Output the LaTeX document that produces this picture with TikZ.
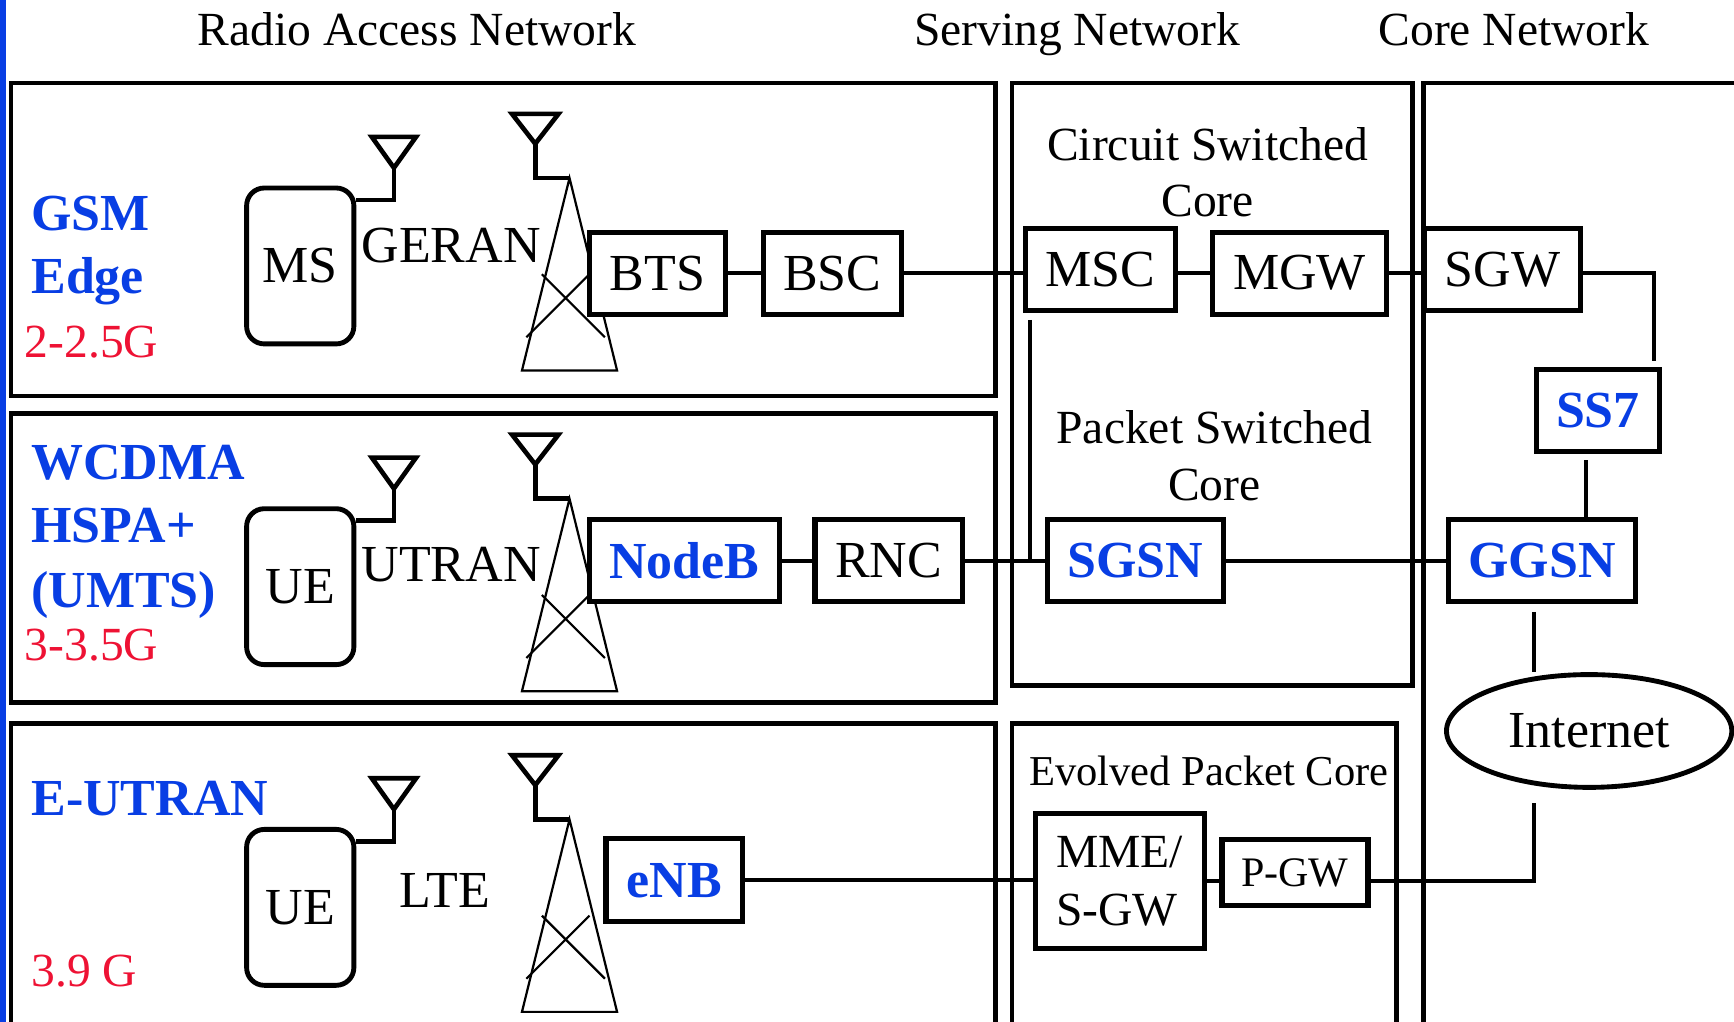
\documentclass[tikz,border=0pt]{standalone}
\usepackage{fontspec}
\setmainfont{Liberation Serif}
\usetikzlibrary{shapes.geometric}
\definecolor{techblue}{RGB}{8,62,228}
\definecolor{genred}{RGB}{238,18,52}

\begin{document}
\begin{tikzpicture}[x=0.5pt, y=-0.5pt]
      \tikzset{
  netbox/.style={
    rectangle,
    draw,
    fill=white,
    line width=2.3pt,
    inner sep=0pt,
    minimum height=37pt,
    font=\fontsize{23.5}{28}\selectfont
  },
  techbox/.style={
    netbox,
    text=techblue,
    font=\fontsize{23.5}{28}\selectfont\bfseries
  },
  mobile/.style={
    rectangle,
    draw,
    rounded corners=8pt,
    line width=2.2pt,
    minimum width=48.5pt,
    minimum height=70.5pt,
    font=\fontsize{23.5}{28}\selectfont
  },
  area/.style={line width=2.1pt},
  link/.style={line width=1.9pt},
  mast/.style={line width=1pt},
  tech/.style={
    anchor=base west,
    inner sep=0pt,
    text=techblue,
    font=\fontsize{23.5}{28}\selectfont\bfseries
  },
  gen/.style={
    anchor=base west,
    inner sep=0pt,
    text=genred,
    font=\fontsize{21.5}{26}\selectfont
  },
  heading/.style={
    anchor=base,
    inner sep=0pt,
    font=\fontsize{21.5}{26}\selectfont
  }
}

\useasboundingbox (0,0) rectangle (1568,924);

\node [heading] (ran-head) at (377,41) {Radio Access Network};
\node [heading] (sn-head) at (974,41) {Serving Network};
\node [heading] (cn-head) at (1369,41) {Core Network};

% network areas
\draw [techblue, line width=2.5pt] (2.5,0) -- (2.5,924);
\draw [area] (10,75) rectangle (900,358);
\draw [area] (10,374) rectangle (900,635);
\draw [area] (10,924) -- (10,654) -- (900,654) -- (900,924);
\draw [area] (915,75) rectangle (1277,620);
\draw [area] (915,924) -- (915,654) -- (1263,654) -- (1263,924);
\draw [area] (1287,924) -- (1287,75) -- (1568,75);

\foreach \t/\y [count=\i] in {GSM/208, Edge/265, WCDMA/434, HSPA+/491, {(UMTS)}/549, E-UTRAN/737}
  \node [tech] (tech-\i) at (28,\y) {\t};

\foreach \g/\x/\y [count=\i] in {2-2.5G/22/323, 3-3.5G/22/597, 3.9 G/28/892}
  \node [gen] (gen-\i) at (\x,\y) {\g};

% handset, radio link and mast, one row per access network
\foreach \ym/\mob/\lnk/\lx/\lb [count=\r] in {168/MS/GERAN/408/69, 458/UE/UTRAN/408/68, 748/UE/LTE/402/73} {
  \node [mobile] (mobile-\r) at (271.5,\ym+72.5) {\mob};
  \draw [link, line width=2.1pt] ([yshift=-6.5pt]mobile-\r.north east) -- ++(34,0) -- ++(0,-29) coordinate (mtip-\r);
  \draw [link, line width=2.1pt] (mtip-\r) -- ++(-20,-28) -- ++(40,0) -- cycle;
  \node [heading, font=\fontsize{23.5}{28}\selectfont] (link-\r) at (\lx,\ym+\lb) {\lnk};
  \draw [mast] (472,\ym+167) -- (515,\ym-7) -- (558,\ym+167) -- cycle;
  \draw [mast] (476,\ym+137) -- (533,\ym+80) (490,\ym+80) -- (547,\ym+137);
  \draw [link, line width=2.1pt] (515,\ym-7) -- (484,\ym-7) -- (484,\ym-38) coordinate (ttip-\r);
  \draw [link, line width=2.1pt] (ttip-\r) -- ++(-21,-27) -- ++(42,0) -- cycle;
}

\node [align=center, font=\fontsize{21.5}{25.5}\selectfont] (cs-core) at (1092,156) {Circuit Switched\\Core};
\node [align=center, font=\fontsize{21.5}{25.5}\selectfont] (ps-core) at (1098,412) {Packet Switched\\Core};
\node [heading, font=\fontsize{19.25}{23}\selectfont] (epc-head) at (1093,710) {Evolved Packet Core};

\node [netbox, minimum width=61.5pt] (bts) at (594.5,247) {BTS};
\node [netbox, minimum width=62.5pt] (bsc) at (752.5,247) {BSC};
\node [netbox, minimum width=68pt] (msc) at (995,244) {MSC};
\node [netbox, minimum width=79pt] (mgw) at (1175,247) {MGW};
\node [netbox, minimum width=70.5pt] (sgw) at (1358.5,244) {SGW};
\node [techbox, minimum width=56pt] (ss7) at (1445,371) {SS7};
\node [techbox, minimum width=86pt] (nodeb) at (619,507) {NodeB};
\node [netbox, minimum width=66.5pt] (rnc) at (803.5,507) {RNC};
\node [techbox, minimum width=79.5pt] (sgsn) at (1026.5,507) {SGSN};
\node [techbox, minimum width=84.5pt] (ggsn) at (1394.5,507) {GGSN};
\node [techbox, minimum width=61.5pt, minimum height=37.5pt] (enb) at (609.5,796) {eNB};
\node [netbox, minimum width=76.5pt, minimum height=61pt, align=left, font=\fontsize{21.5}{26}\selectfont] (mme) at (1012.5,797) {MME/\\S-GW};
\node [netbox, minimum width=66pt, minimum height=30pt, font=\fontsize{19}{23}\selectfont] (pgw) at (1171,789) {P-GW};
\node [ellipse, draw, line width=2.2pt, inner sep=0pt, minimum width=129pt, minimum height=51pt, font=\fontsize{23.5}{28}\selectfont] (inet) at (1437,661) {Internet};

\draw [link] (bts) -- (bsc);
\draw [link] (bsc.east) -- (bsc.east -| msc.west);
\draw [link] (mgw.west -| msc.east) -- (mgw.west);
\draw [link] (mgw.east) -- (mgw.east -| sgw.west);
\draw [link, shorten >=2.5pt] (sgw.east |- mgw.east) -| ([xshift=-4pt]ss7.north east);
\draw [link, shorten <=3pt] ([xshift=-5.5pt]ss7.south) -- ([xshift=-5.5pt]ss7.south |- ggsn.north);
\draw [link] (nodeb) -- (rnc);
\draw [link] (rnc) -- (sgsn);
\draw [link] (sgsn) -- (ggsn);
\draw [link, shorten <=3pt] ([xshift=3.5pt]msc.south west) -- ([xshift=3.5pt]msc.south west |- sgsn.west);
\draw [link, shorten <=3.5pt] ([xshift=-3.75pt]ggsn.south) -- ([xshift=-3.75pt]ggsn.south |- inet.north);
\draw [link, shorten <=6pt] ([xshift=-25pt]inet.south) |- (pgw.east |- mme.east);
\draw [link] (enb.east) -- (enb.east -| mme.west);
\draw [link] (mme.east) -- (mme.east -| pgw.west);
    \end{tikzpicture}
\end{document}
